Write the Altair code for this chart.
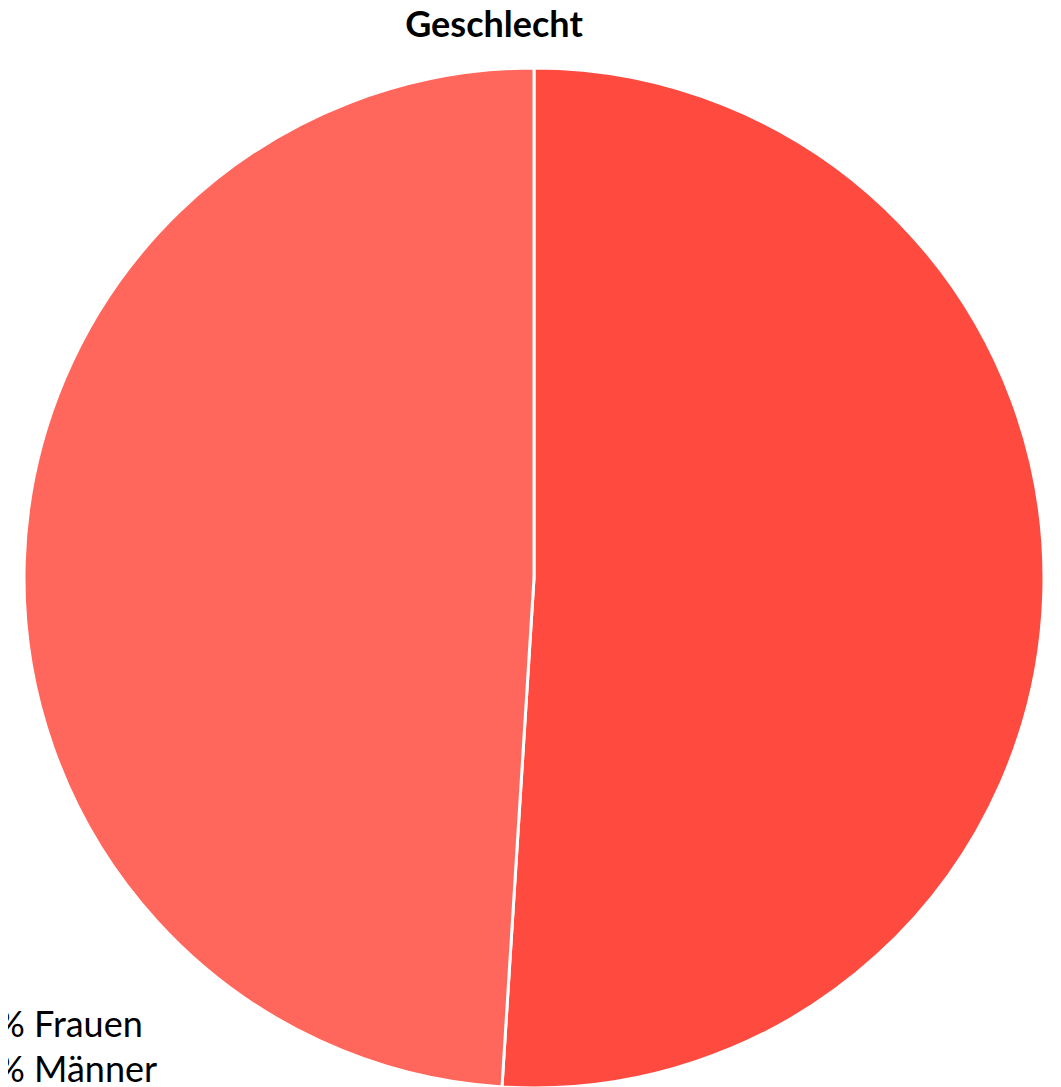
import altair as alt
import pandas as pd

categories = ["Frauen", "Männer"]
values = [51, 49]
colors = ["#FF4A40", "#FF665C"]
label_texts = ["% Frauen", "% Männer"]
title_text = "Geschlecht"

df = pd.DataFrame({"cat": categories, "val": values, "order": [0, 1]})
labels_df = pd.DataFrame({"txt": label_texts, "row": [0, 1]})

W, H = 1045, 1079

pie = alt.Chart(df).mark_arc(outerRadius=510, stroke="white", strokeWidth=3).encode(
    theta=alt.Theta("val:Q", stack=True),
    order=alt.Order("order:Q"),
    color=alt.Color("cat:N", scale=alt.Scale(domain=categories, range=colors), legend=None),
    x=alt.value(526),
    y=alt.value(570),
)

title = alt.Chart(pd.DataFrame({"t": [title_text]})).mark_text(
    font="Lato", fontSize=36, fontWeight="bold", align="center", baseline="alphabetic", color="black"
).encode(text="t:N", x=alt.value(486), y=alt.value(29))

labels = alt.Chart(labels_df).mark_text(
    font="Lato", fontSize=36, align="left", baseline="alphabetic", color="black"
).encode(
    text="txt:N",
    x=alt.value(-12),
    y=alt.Y("row:Q", scale=alt.Scale(domain=[0, 1], range=[1029, 1074]), axis=None),
)

chart = alt.layer(pie, title, labels).properties(
    width=W, height=H, autosize="none", padding=0
).configure_view(stroke=None)

chart.save("out.html", embed_options={"renderer": "svg", "actions": False})
